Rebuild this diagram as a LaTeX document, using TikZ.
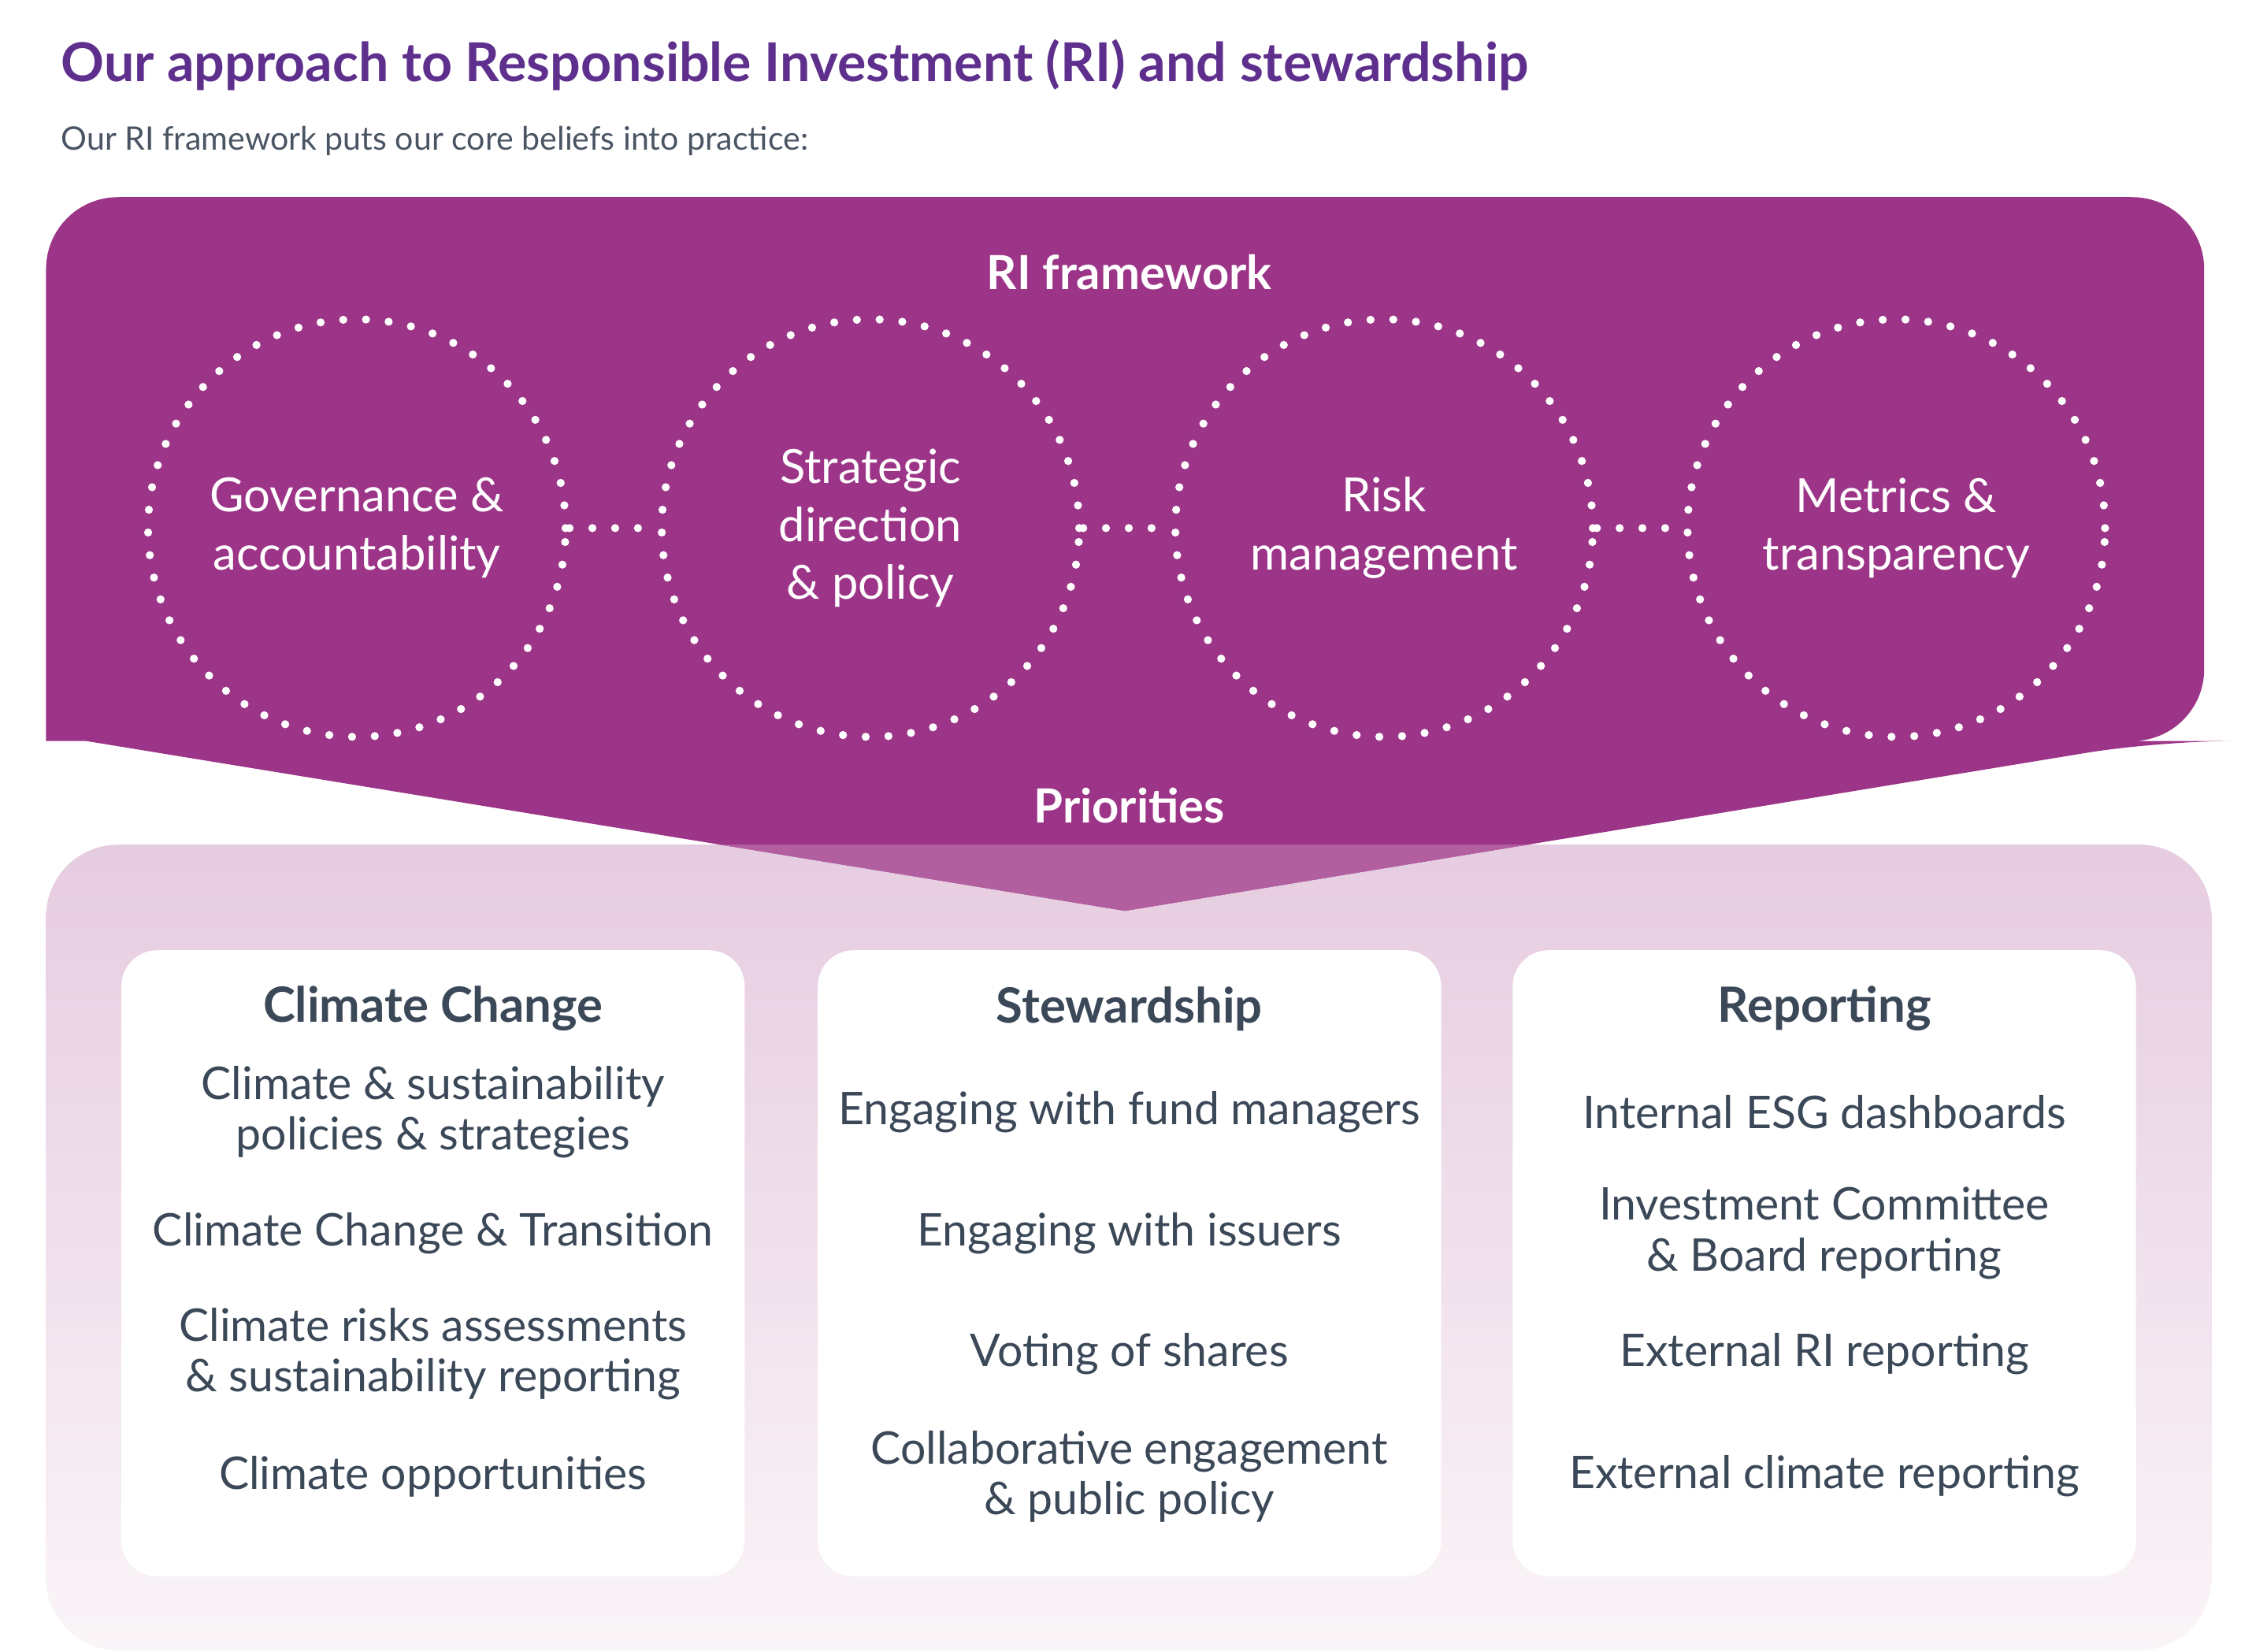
\documentclass[tikz,border=0pt]{standalone}
\usepackage{fontspec}
\setmainfont{Lato}
\usetikzlibrary{positioning}
\definecolor{riPurple}{HTML}{9C3587}
\definecolor{riLight}{HTML}{B15F9F}
\definecolor{riTitle}{HTML}{5E2F8C}
\definecolor{riText}{HTML}{3B4858}
\definecolor{riGrey}{HTML}{4A5563}
\definecolor{riPinkTop}{HTML}{E6CCE0}
\definecolor{riPinkBot}{HTML}{FAF5F8}
\begin{document}
\begin{tikzpicture}[x=0.01cm,y=-0.01cm]
		\useasboundingbox (0,0) rectangle (1568,1148);
		\begin{scope}
			[
				styleCircle/.style={circle, draw=white, line width=1.6pt, dash pattern=on 0pt off 4.5pt, line cap=round,
					minimum size=2.9cm, text=white, align=center, font=\fontsize{9.3}{11.5}\selectfont},
				styleBox/.style={draw=none, fill=white, rounded corners=0.25cm, minimum width=4.33cm, minimum height=4.35cm},
				styleHead/.style={text=riText, font=\fontsize{9.6}{11}\selectfont\bfseries},
				styleItem/.style={text=riText, align=center, font=\fontsize{8.9}{10}\selectfont},
			]
			\node(title)[anchor=west, text=riTitle, font=\fontsize{10.6}{12}\selectfont\bfseries] at (30,45) {Our approach to Responsible Investment (RI) and stewardship};
			\node(sub)[anchor=west, text=riGrey, font=\fontsize{6.4}{8}\selectfont] at (30,98) {Our RI framework puts our core beliefs into practice:};

			% priorities panel
			\shade[top color=riPinkTop, bottom color=riPinkBot, rounded corners=0.5cm] (32,587) rectangle (1537,1147);
			% framework shape
			\fill[riPurple, rounded corners=0.5cm] (32,515) -- (32,137) -- (1532,137) -- (1532,515) -- (1500,515) [sharp corners] -- (782,633) -- (60,515) -- cycle;
			\begin{scope}
				\clip[rounded corners=0.5cm] (32,587) rectangle (1537,1147);
				\fill[riLight] (60,515) -- (782,633) -- (1500,515) -- cycle;
			\end{scope}

			\node(fw)[text=white, font=\fontsize{9.3}{11}\selectfont\bfseries] at (785,189) {RI framework};
			\node(prio)[text=white, font=\fontsize{9.3}{11}\selectfont\bfseries] at (785,560) {Priorities};

			\node(gov)[styleCircle] at (248,367) {Governance \&\\accountability};
			\node(strat)[styleCircle] at (605,367) {Strategic\\direction\\\& policy};
			\node(risk)[styleCircle] at (962,367) {Risk\\management};
			\node(metr)[styleCircle] at (1318,367) {Metrics \&\\transparency};

			\node(climate)[styleBox] at (301,878) {};
			\node(steward)[styleBox] at (785,878) {};
			\node(report)[styleBox] at (1268,878) {};

			\node(hClimate)[styleHead] at (301,701) {Climate Change};
			\node(hSteward)[styleHead] at (785,701) {Stewardship};
			\node(hReport)[styleHead] at (1268,701) {Reporting};

			\node(c1)[styleItem] at (301,773) {Climate \& sustainability\\policies \& strategies};
			\node(c2)[styleItem] at (301,857) {Climate Change \& Transition};
			\node(c3)[styleItem] at (301,941) {Climate risks assessments\\\& sustainability reporting};
			\node(c4)[styleItem] at (301,1026) {Climate opportunities};

			\node(s1)[styleItem] at (785,773) {Engaging with fund managers};
			\node(s2)[styleItem] at (785,857) {Engaging with issuers};
			\node(s3)[styleItem] at (785,941) {Voting of shares};
			\node(s4)[styleItem] at (785,1026) {Collaborative engagement\\\& public policy};

			\node(r1)[styleItem] at (1268,773) {Internal ESG dashboards};
			\node(r2)[styleItem] at (1268,857) {Investment Committee\\\& Board reporting};
			\node(r3)[styleItem] at (1268,941) {External RI reporting};
			\node(r4)[styleItem] at (1268,1026) {External climate reporting};
		\end{scope}

		\begin{scope}
			[ link/.style = {draw=white, line width=1.6pt, dash pattern=on 0pt off 4.5pt, line cap=round} ]
			\path
			(gov) edge[link] (strat)
			(strat) edge[link] (risk)
			(risk) edge[link] (metr);
		\end{scope}
	\end{tikzpicture}
\end{document}
